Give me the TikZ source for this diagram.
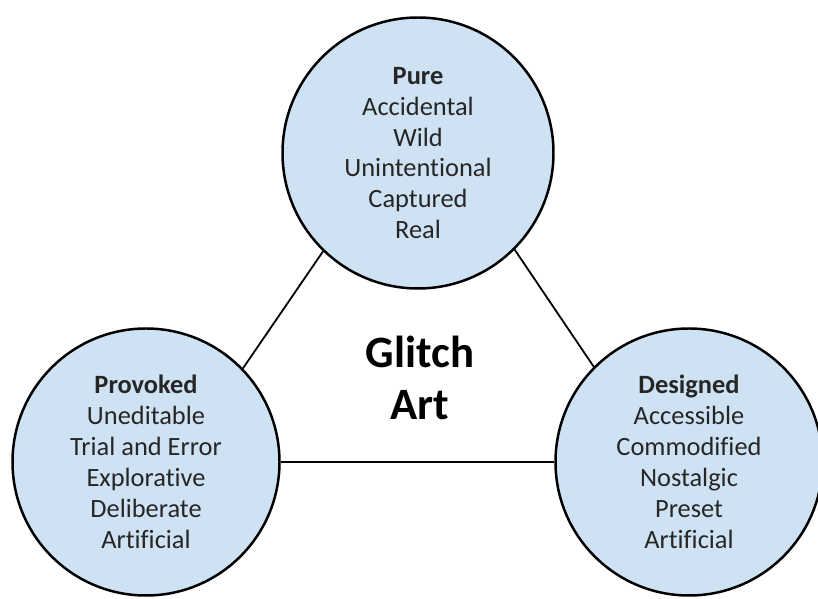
\documentclass[tikz,border=0pt]{standalone}
\usepackage{fontspec}
\setmainfont{Carlito}[Ligatures={NoCommon,NoRequired,NoContextual}]
\usepackage{tikz}
\usetikzlibrary{positioning}
\definecolor{glitchblue}{HTML}{CFE2F3}
\definecolor{glitchtext}{HTML}{262626}
\tikzstyle{kind}=[circle, draw=black, line width=2.5pt, fill=glitchblue,
    minimum size=268, inner sep=0pt, align=center, text=glitchtext,
    font=\fontsize{26.5}{31}\selectfont]
\tikzstyle{link}=[draw=black, line width=1.8pt]

\begin{document}
\begin{tikzpicture}[x=1bp, y=1bp]
\useasboundingbox (0,0) rectangle (818,599);
\node[kind, minimum size=272] (pure) at (418,446){\textbf{Pure}\\Accidental\\Wild\\Unintentional\\Captured\\Real};
\node[kind] (provoked) at (146,137){\textbf{Provoked}\\Uneditable\\Trial and Error\\Explorative\\Deliberate\\Artificial};
\node[kind] (designed) at (689,137){\textbf{Designed}\\Accessible\\Commodified\\Nostalgic\\Preset\\Artificial};
\node[align=center, font=\fontsize{45}{53}\selectfont\bfseries] (glitch) at (420,221){Glitch\\Art};
\draw[link](pure.226) -- (provoked.44);
\draw[link](pure.315) -- (designed.135);
\draw[link](provoked.east) -- (designed.west);
\end{tikzpicture}
\end{document}
